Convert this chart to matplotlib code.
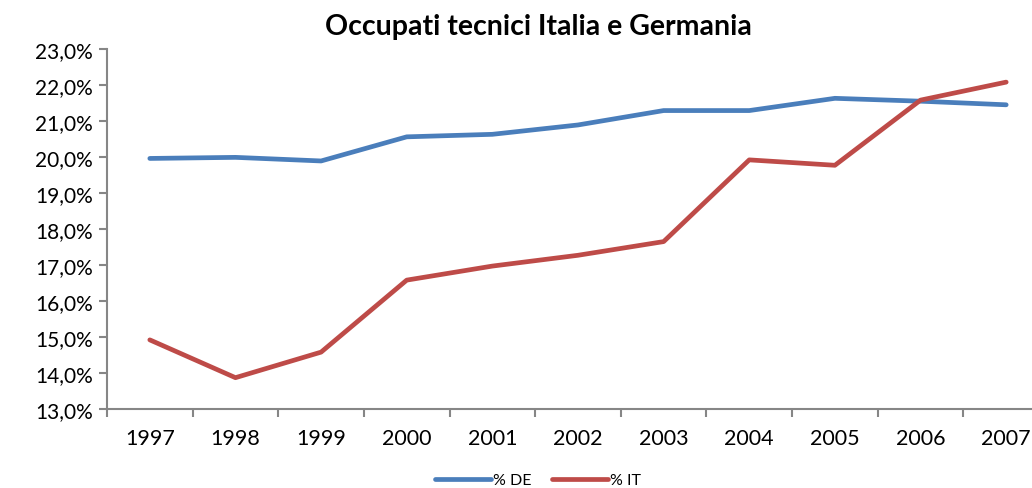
import numpy as np
import matplotlib.pyplot as plt
from matplotlib.ticker import FixedLocator, FuncFormatter

plt.rcParams['font.family'] = ['Lato', 'DejaVu Sans']

anni = ['1997', '1998', '1999', '2000', '2001', '2002', '2003', '2004', '2005', '2006', '2007']
de = [19.96, 19.99, 19.89, 20.56, 20.63, 20.89, 21.29, 21.29, 21.63, 21.55, 21.45]
it = [14.92, 13.87, 14.58, 16.58, 16.97, 17.27, 17.65, 19.92, 19.77, 21.58, 22.08]

blu = '#4A7EBB'
rosso = '#BE4B48'
grigio = '#868686'

fig = plt.figure(figsize=(10.32, 4.89), dpi=100)
ax = fig.add_axes([107 / 1032, 1 - 410 / 489, 942 / 1032, 360 / 489])

x = np.arange(len(anni))
ax.plot(x, de, color=blu, lw=3.4, solid_capstyle='round', label='% DE')
ax.plot(x, it, color=rosso, lw=3.4, solid_capstyle='round', label='% IT')

ax.set_xlim(-0.5, len(anni) - 0.5)
ax.set_ylim(13, 23)
ax.set_yticks(np.arange(13, 23.1, 1))
ax.yaxis.set_major_formatter(FuncFormatter(lambda v, p: f'{v:.1f}%'.replace('.', ',')))

ax.set_xticks(x)
ax.set_xticklabels(anni)
ax.xaxis.set_minor_locator(FixedLocator(np.arange(-0.5, len(anni), 1)))
ax.tick_params(axis='x', which='major', length=0, pad=14, labelsize=15.5)
ax.tick_params(axis='x', which='minor', length=6, width=1.5, color=grigio, direction='out')
ax.tick_params(axis='y', length=6, width=1.5, color=grigio, labelsize=15, pad=4)

for s in ['top', 'right']:
    ax.spines[s].set_visible(False)
for s in ['left', 'bottom']:
    ax.spines[s].set_color(grigio)
    ax.spines[s].set_linewidth(1.5)

fig.text(538 / 1032, 1 - 27 / 489, 'Occupati tecnici Italia e Germania',
         ha='center', va='center', fontsize=20.5, fontweight='bold')

fig.legend(loc='center', bbox_to_anchor=(538 / 1032, 1 - 481 / 489), ncol=2,
           frameon=False, fontsize=11.5, handlelength=3.5, handletextpad=0.1,
           columnspacing=1.3)

fig.savefig('out.png', dpi=100)
